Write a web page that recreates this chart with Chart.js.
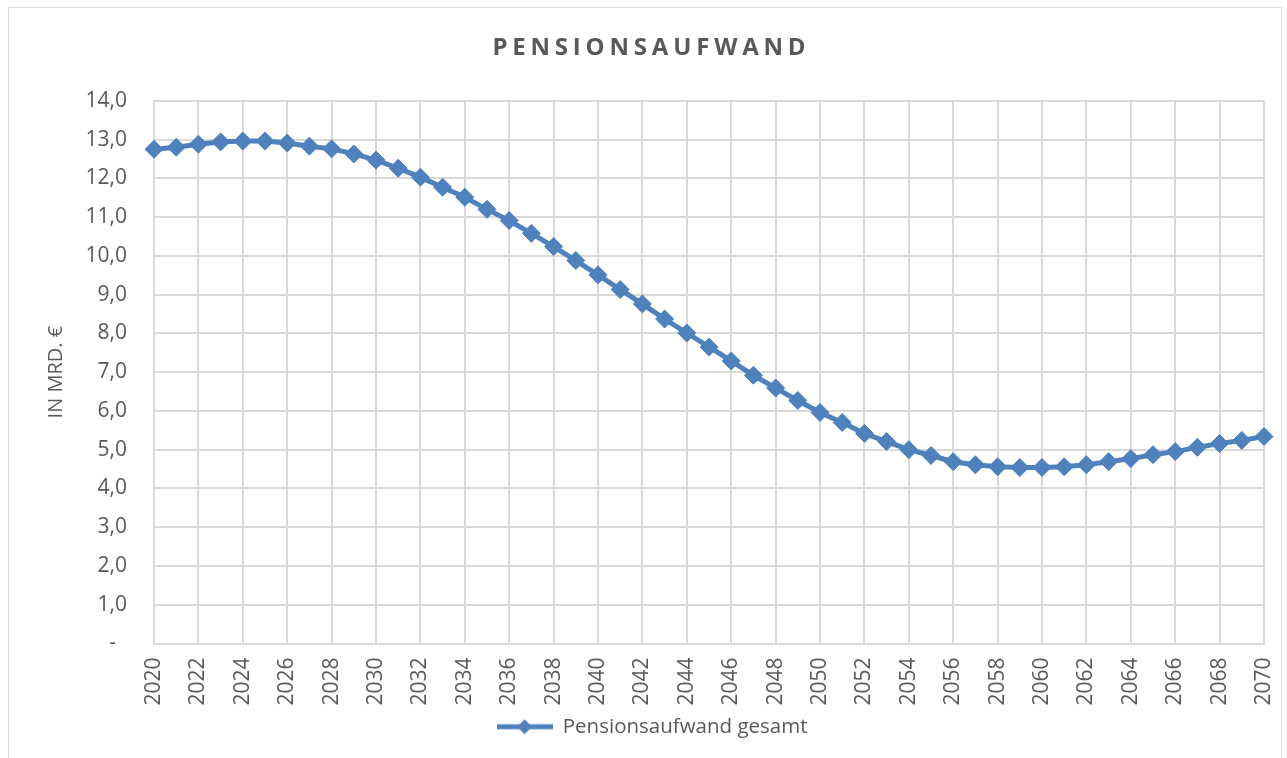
<!DOCTYPE html>
<html>
<head>
<meta charset="utf-8">
<script src="https://cdn.jsdelivr.net/npm/chart.js@4/dist/chart.umd.min.js"></script>
<style>
  html, body { margin: 0; padding: 0; background: #fff; }
  #wrap { position: relative; width: 1287px; height: 758px; overflow: hidden; }
  #frame { position: absolute; left: 8px; top: 7px; width: 1274px; height: 760px; border: 1px solid #d9d9d9; box-sizing: border-box; }
  #chart { position: absolute; left: 0; top: 0; }
</style>
</head>
<body>
<div id="wrap">
  <div id="frame"></div>
  <canvas id="chart" width="1287" height="758"></canvas>
</div>
<script>
// Jahre 2020-2070
const years = [
  2020, 2021, 2022, 2023, 2024, 2025, 2026, 2027, 2028, 2029,
  2030, 2031, 2032, 2033, 2034, 2035, 2036, 2037, 2038, 2039,
  2040, 2041, 2042, 2043, 2044, 2045, 2046, 2047, 2048, 2049,
  2050, 2051, 2052, 2053, 2054, 2055, 2056, 2057, 2058, 2059,
  2060, 2061, 2062, 2063, 2064, 2065, 2066, 2067, 2068, 2069,
  2070
];

// Pensionsaufwand gesamt, in Mrd. €
const pensionsaufwand = [
  12.75, 12.80, 12.88, 12.94, 12.96, 12.96, 12.91, 12.83, 12.76, 12.63,
  12.47, 12.26, 12.03, 11.77, 11.51, 11.20, 10.91, 10.58, 10.24, 9.88,
  9.51, 9.13, 8.76, 8.37, 8.01, 7.65, 7.29, 6.92, 6.59, 6.27,
  5.96, 5.70, 5.42, 5.21, 5.00, 4.85, 4.69, 4.61, 4.56, 4.54,
  4.54, 4.56, 4.61, 4.69, 4.77, 4.87, 4.95, 5.06, 5.16, 5.24,
  5.34
];

const seriesName = 'Pensionsaufwand gesamt';
const chartTitle = 'PENSIONSAUFWAND';
const yTitle = 'IN MRD. €';

const blue = '#4F81BD';
const gridColor = '#d9d9d9';
const textColor = '#595959';
const font = 'Open Sans';

// legend marker: line with diamond
const marker = document.createElement('canvas');
marker.width = 56;
marker.height = 18;
{
  const c = marker.getContext('2d');
  c.strokeStyle = blue;
  c.lineWidth = 5;
  c.beginPath();
  c.moveTo(0, 9);
  c.lineTo(56, 9);
  c.stroke();
  c.fillStyle = blue;
  c.beginPath();
  c.moveTo(28, 1.5);
  c.lineTo(35.5, 9);
  c.lineTo(28, 16.5);
  c.lineTo(20.5, 9);
  c.closePath();
  c.fill();
}

// nudge title and legend a little to the right, like the original
const nudge = {
  id: 'nudge',
  afterLayout(chart) {
    if (chart.titleBlock) {
      chart.titleBlock.left += 7;
      chart.titleBlock.right += 7;
    }
    if (chart.legend) {
      chart.legend.left += 10;
      chart.legend.right += 10;
      chart.legend.adjustHitBoxes();
    }
  }
};

new Chart(document.getElementById('chart'), {
  type: 'line',
  data: {
    labels: years,
    datasets: [{
      label: seriesName,
      data: pensionsaufwand,
      borderColor: blue,
      backgroundColor: blue,
      borderWidth: 5,
      pointStyle: 'rectRot',
      pointRadius: 9,
      pointBorderWidth: 1,
      pointBorderColor: blue,
      pointBackgroundColor: blue,
      tension: 0,
    }]
  },
  plugins: [nudge],
  options: {
    responsive: false,
    animation: false,
    layout: {
      padding: { left: 20, right: 23, top: 8, bottom: 11 }
    },
    plugins: {
      title: {
        display: true,
        text: chartTitle.split('').join('\u200A\u200A'),
        color: textColor,
        font: { family: font, size: 24, weight: 'bold' },
        padding: { top: 26, bottom: 38 },
      },
      legend: {
        position: 'bottom',
        labels: {
          usePointStyle: true,
          pointStyle: marker,
          pointStyleWidth: 56,
          color: textColor,
          padding: 10,
          font: { family: font, size: 20.5 },
        }
      },
      tooltip: { enabled: false },
    },
    scales: {
      x: {
        grid: {
          drawTicks: false,
          lineWidth: 2,
          color: ctx => (ctx.index % 2 === 0 ? gridColor : 'rgba(0,0,0,0)'),
        },
        border: { color: gridColor, width: 2 },
        ticks: {
          autoSkip: false,
          maxRotation: 90,
          minRotation: 90,
          padding: 14,
          color: textColor,
          font: { family: font, size: 21 },
          callback: (value, index) => (index % 2 === 0 ? String(years[index]) : ''),
        },
        afterFit: scale => {
          scale.height = 63;
          scale.paddingLeft = 0;
          scale.paddingRight = 0;
        },
      },
      y: {
        min: 0,
        max: 14,
        grid: {
          drawTicks: false,
          lineWidth: 2,
          color: gridColor,
        },
        border: { color: gridColor, width: 2 },
        ticks: {
          stepSize: 1,
          padding: 27,
          color: textColor,
          font: { family: font, size: 21 },
          callback: value => (value === 0 ? '-  ' : value.toFixed(1).replace('.', ',')),
        },
        title: {
          display: true,
          text: yTitle,
          color: textColor,
          font: { family: font, size: 20 },
          padding: { top: 24, bottom: 0 },
        },
        afterFit: scale => { scale.width = 134; },
      },
    },
  },
});
</script>
</body>
</html>
